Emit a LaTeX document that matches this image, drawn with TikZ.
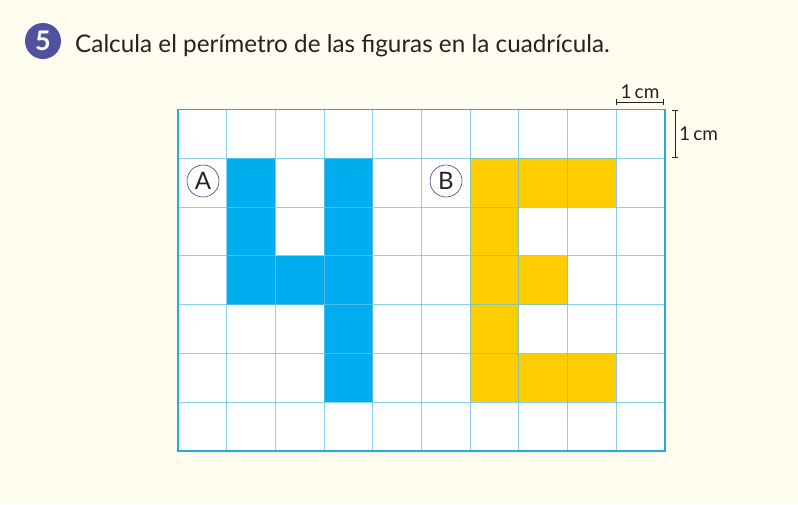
\documentclass[tikz,border=0pt]{standalone}
\usepackage{fontspec}
\setmainfont{Lato}
\usetikzlibrary{calc}
\definecolor{bg}{RGB}{255,253,240}
\definecolor{numc}{RGB}{80,82,160}
\definecolor{cblue}{RGB}{0,174,239}
\definecolor{cyell}{RGB}{255,204,0}
\definecolor{gridc}{RGB}{100,195,225}
\definecolor{borderc}{RGB}{40,170,215}
\definecolor{txt}{RGB}{35,35,35}
\tikzset{
  bluecell/.style={fill=cblue,draw=none},
  yellcell/.style={fill=cyell,draw=none},
  gridline/.style={draw=gridc,line width=0.9pt,opacity=0.75},
  letterc/.style={circle,draw=numc!80!black,line width=0.6pt,fill=white,minimum size=32pt,inner sep=0pt,font=\fontsize{24}{24}\selectfont,text=txt},
  scalebar/.style={draw=txt,line width=0.9pt},
  scalelbl/.style={font=\fontsize{19}{19}\selectfont,text=txt,inner sep=0pt}
}
\begin{document}
\begin{tikzpicture}[x=1pt,y=-1pt]
\useasboundingbox (0,0) rectangle (798,504);
\fill[bg] (0,0) rectangle (798,504);
% title
\node[circle,fill=numc,minimum size=36pt,inner sep=0pt,text=white,font=\fontsize{27}{27}\selectfont\bfseries] (num) at (43,41) {5};
\node[anchor=base west,inner sep=0pt,text=txt,font=\fontsize{24.3}{24.3}\selectfont] (title) at (75,52) {Calcula el perímetro de las figuras en la cuadrícula.};
% grid geometry
\def\gx{178}\def\gy{109.5}\def\cw{48.7}\def\ch{48.8}
\fill[white] (\gx,\gy) rectangle ({\gx+10*\cw},{\gy+7*\ch});
% shape A
\foreach \c/\r in {1/1,1/2,1/3,2/3,3/1,3/2,3/3,3/4,3/5}{
  \fill[bluecell] ({\gx+\c*\cw},{\gy+\r*\ch}) rectangle ({\gx+(\c+1)*\cw},{\gy+(\r+1)*\ch});
}
% shape B
\foreach \c/\r in {6/1,6/2,6/3,6/4,6/5,7/1,8/1,7/3,7/5,8/5}{
  \fill[yellcell] ({\gx+\c*\cw},{\gy+\r*\ch}) rectangle ({\gx+(\c+1)*\cw},{\gy+(\r+1)*\ch});
}
% grid lines
\foreach \i in {1,...,9}{
  \draw[gridline] ({\gx+\i*\cw},\gy) -- ({\gx+\i*\cw},{\gy+7*\ch});
}
\foreach \j in {1,...,6}{
  \draw[gridline] (\gx,{\gy+\j*\ch}) -- ({\gx+10*\cw},{\gy+\j*\ch});
}
\draw[draw=borderc,line width=1.3pt] (\gx,\gy) rectangle ({\gx+10*\cw},{\gy+7*\ch});
% labels
\node[letterc] (A) at (203,181) {A};
\node[letterc] (B) at (446,181) {B};
% scale bars
\coordinate (h1) at (616.5,102);
\coordinate (h2) at (663,102);
\draw[scalebar] (h1) -- (h2);
\draw[scalebar] ($(h1)+(0,-3)$) -- ($(h1)+(0,3)$);
\draw[scalebar] ($(h2)+(0,-3)$) -- ($(h2)+(0,3)$);
\node[scalelbl,anchor=base] (hl) at (640,98) {1\,cm};
\coordinate (v1) at (675,110);
\coordinate (v2) at (675,157);
\draw[scalebar] (v1) -- (v2);
\draw[scalebar] ($(v1)+(-3,0)$) -- ($(v1)+(3,0)$);
\draw[scalebar] ($(v2)+(-3,0)$) -- ($(v2)+(3,0)$);
\node[scalelbl,anchor=base west] (vl) at (679,140) {1\,cm};
\end{tikzpicture}
\end{document}
